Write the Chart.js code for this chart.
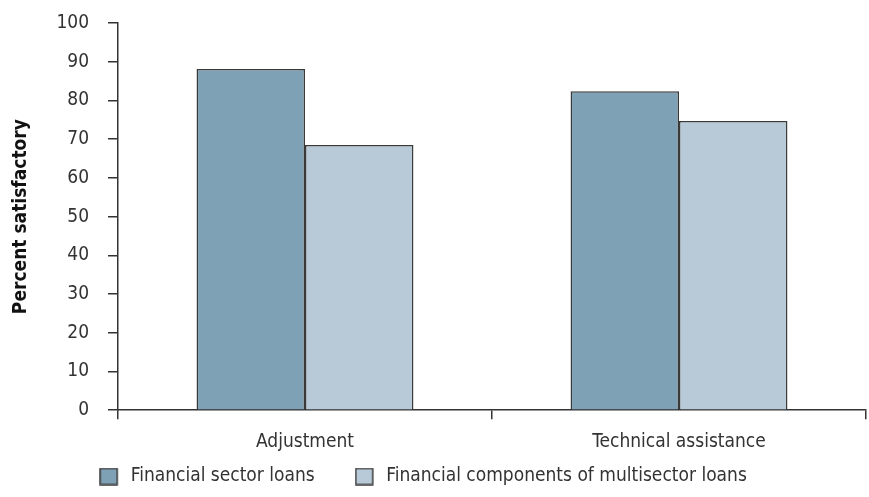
<!DOCTYPE html>
<html><head><meta charset="utf-8">
<script src="https://cdn.jsdelivr.net/npm/chart.js@4/dist/chart.umd.min.js"></script>
<style>html,body{margin:0;padding:0;background:#fff}#wrap{width:869px;height:497px}</style>
</head><body><div id="wrap"><canvas id="c" width="869" height="497"></canvas></div>
<script>
const categories = ["Adjustment", "Technical assistance"];
const seriesNames = ["Financial sector loans", "Financial components of multisector loans"];
const financialSectorLoans = [88.1, 82.4];
const multisectorComponents = [68.5, 74.7];
const yTicks = [0,10,20,30,40,50,60,70,80,90,100];

const FONT = "'DejaVu Sans Condensed', 'Liberation Sans', sans-serif";
const txt = '#333';
const colors = ['#7FA1B5', '#B8CAD8'];

function boxImage(fill) {
  const c = document.createElement('canvas');
  c.width = 22; c.height = 18;
  const g = c.getContext('2d');
  g.fillStyle = fill;
  g.fillRect(1, 1, 17, 16);
  g.strokeStyle = '#3a3a3a';
  g.lineWidth = 1.5;
  g.strokeRect(1, 1, 17, 16);
  return c;
}
const boxImgs = colors.map(boxImage);

const SHIFT = 37;
const SHIFT_X = -10;
const legendGap = {
  id: 'legendGap',
  beforeLayout(chart) {
    const lg = chart.legend;
    if (!lg || lg._gapPatched) return;
    lg._gapPatched = true;
    const fit = lg.fit.bind(lg);
    lg.fit = function () { fit(); this.height -= SHIFT; };
    const inner = lg._draw.bind(lg);
    lg._draw = function () { const ctx = this.ctx; ctx.save(); ctx.translate(SHIFT_X, -SHIFT); inner(); ctx.restore(); };
  }
};

new Chart(document.getElementById('c'), {
  type: 'bar',
  data: {
    labels: categories,
    datasets: [
      {label: seriesNames[0], data: financialSectorLoans, backgroundColor: colors[0], borderColor: '#3a3a3a', borderWidth: 1.5, borderSkipped: 'bottom'},
      {label: seriesNames[1], data: multisectorComponents, backgroundColor: colors[1], borderColor: '#3a3a3a', borderWidth: 1.5, borderSkipped: 'bottom'}
    ]
  },
  plugins: [legendGap],
  options: {
    responsive: false,
    animation: false,
    devicePixelRatio: 1,
    layout: {padding: {top: 23, right: 3, left: 0, bottom: 1}},
    categoryPercentage: 0.58,
    barPercentage: 1.0,
    plugins: {
      tooltip: {enabled: false},
      legend: {
        position: 'bottom',
        labels: {
          font: {family: FONT, size: 19},
          color: txt,
          usePointStyle: true,
          pointStyleWidth: 22,
          boxHeight: 18,
          padding: 40,
          generateLabels(chart) {
            return chart.data.datasets.map((d, i) => ({
              text: d.label, fillStyle: d.backgroundColor, strokeStyle: '#3a3a3a', lineWidth: 0, pointStyle: boxImgs[i], fontColor: txt, datasetIndex: i
            }));
          }
        }
      }
    },
    scales: {
      x: {
        offset: true,
        grid: {display: true, offset: true, drawOnChartArea: false, color: '#333', tickLength: 9, lineWidth: 1.5},
        border: {display: true, color: '#333', width: 1.5},
        ticks: {font: {family: FONT, size: 19}, color: txt, padding: 11}
      },
      y: {
        min: 0, max: 100,
        afterBuildTicks(s) { s.ticks = yTicks.map(v => ({value: v})); },
        afterFit(s) { s.width = 118; s.paddingTop = 11; s.paddingBottom = 11; },
        grid: {display: true, drawOnChartArea: false, color: '#333', tickLength: 10, lineWidth: 1.5},
        border: {display: true, color: '#333', width: 1.5},
        ticks: {font: {family: FONT, size: 19}, color: txt, padding: 19},
        title: {display: true, text: 'Percent satisfactory', font: {family: FONT, size: 19, weight: 'bold'}, color: '#111', padding: {top: 10, bottom: 0}}
      }
    }
  }
});
</script></body></html>
